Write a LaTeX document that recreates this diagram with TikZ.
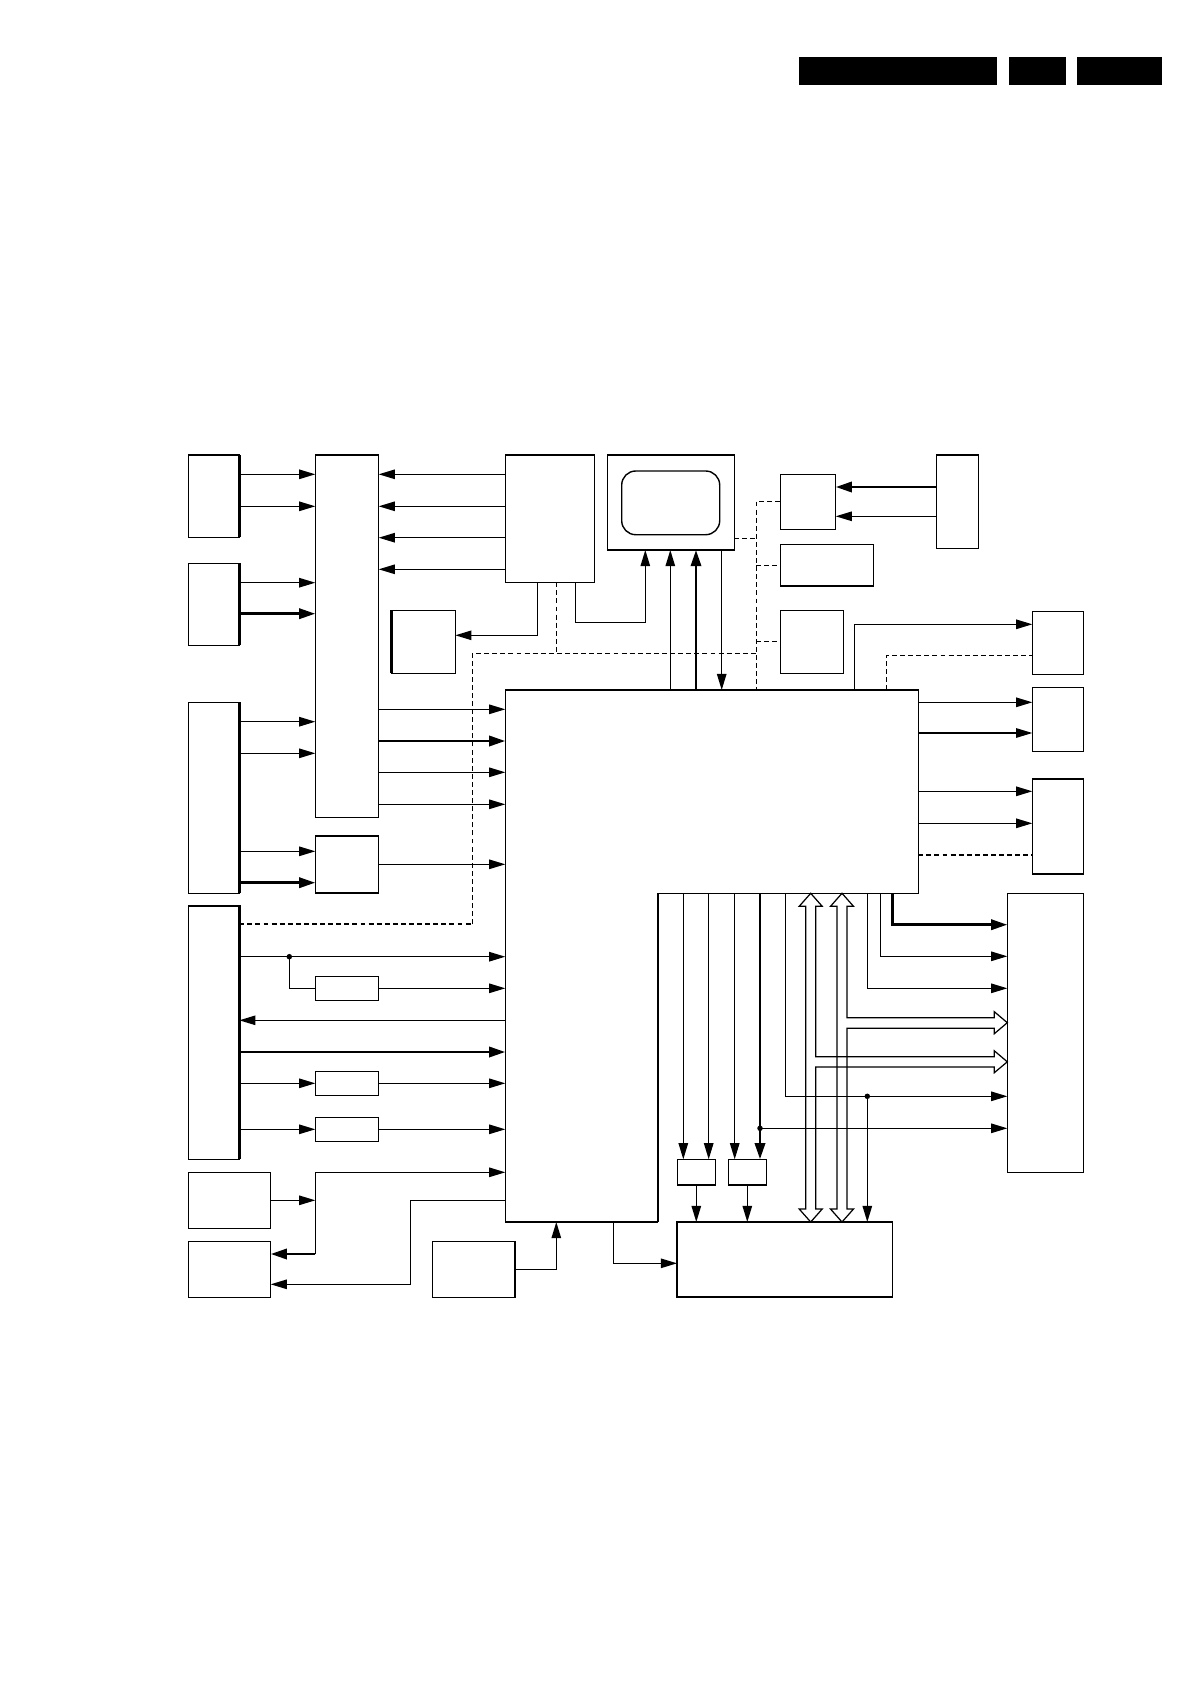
\documentclass[tikz,border=0pt]{standalone}
\usetikzlibrary{arrows.meta,fit}
\newcommand\bx[6][]{\path (#3,#4) coordinate (#2-a) (#5,#6) coordinate (#2-b); \node[box,#1,fit=(#2-a)(#2-b)] (#2) {};}
\begin{document}
\begin{tikzpicture}[x=0.1mm,y=-0.1mm,
  box/.style={draw,line width=0.4pt,inner sep=0pt,outer sep=0pt,rectangle},
  ln/.style={line width=0.35pt},
  thk/.style={line width=0.8pt},
  arr/.style={ln,-{Triangle[length=4.6pt,width=2.7pt]}},
  tarr/.style={thk,-{Triangle[length=4.6pt,width=2.9pt]}},
  dsh/.style={line width=0.4pt,dash pattern=on 1.4pt off 0.9pt},
  bus/.style={line width=0.35pt,line join=miter},
  dot/.style={circle,fill,inner sep=0pt,minimum size=0.55mm}]
\useasboundingbox (0,0) rectangle (1190,1684);
% header bars
\bx[fill=black,draw=none]{h1}{799}{56.7}{997}{84.7}
\bx[fill=black,draw=none]{h2}{1009}{56.7}{1066}{84.7}
\bx[fill=black,draw=none]{h3}{1077}{56.7}{1162}{84.7}
% boxes
\bx{A1}{188.3}{455}{239.3}{537.3}
\bx{A2}{188.3}{563.3}{239.3}{645.3}
\bx{A3}{188.3}{702.3}{239.3}{893.3}
\bx{A4}{188.3}{906}{239.3}{1159.3}
\bx{B}{315.3}{455}{378.7}{817.3}
\bx{J}{315.3}{836}{378.7}{893}
\bx{K1}{315.3}{976.3}{378.7}{1000.3}
\bx{K2}{315.3}{1071.3}{378.7}{1095.3}
\bx{K3}{315.3}{1117.3}{378.7}{1141.3}
\bx{C}{505.3}{455}{594.3}{582.3}
\bx{D}{391.7}{610.3}{455.3}{673.3}
\bx{T}{607.3}{455}{734.3}{550}
\bx[rounded corners=1.4mm]{Ti}{621.7}{471}{719.7}{534.7}
\bx{E}{780.3}{474.3}{835.7}{529.3}
\bx{F}{780.3}{544.3}{873.3}{586}
\bx{G}{780.3}{610.3}{843.3}{673.3}
\bx{H}{936.3}{455}{978.3}{548.3}
\bx{I}{1032.3}{611.3}{1083.3}{674.3}
\bx{S1}{1032.3}{687.3}{1083.3}{751.3}
\bx{S2}{1032.3}{779}{1083.3}{874}
\bx{R}{1007.3}{893.3}{1083.3}{1172.3}
\bx{L1}{188.3}{1172.3}{270.7}{1228.3}
\bx{L2}{188.3}{1241.3}{270.7}{1297.3}
\bx{N}{432.3}{1241.3}{515}{1297.3}
\bx{Q1}{677.3}{1159.3}{715.3}{1185}
\bx{Q2}{728.3}{1159.3}{766.3}{1185}
\bx{P}{677}{1222}{892.3}{1297}
% main L-shaped block
\coordinate (M1) at (505.3,690);
\coordinate (M2) at (918.3,690);
\coordinate (M3) at (918.3,893.3);
\coordinate (M4) at (657.7,893.3);
\coordinate (M5) at (657.7,1222);
\coordinate (M6) at (505.3,1222);
\draw[line width=0.4pt] (M1)--(M2)--(M3)--(M4)--(M5)--(M6)--cycle;
% heavier edges
\draw[thk] (A1.north east) -- (A1.south east);
\draw[thk] (A2.north east) -- (A2.south east);
\draw[thk] (A3.north east) -- (A3.south east);
\draw[thk] (A4.north west) -- (A4.north east) -- (A4.south east);
\draw[thk] (D.north west) -- (D.south west);
\draw[thk] (S2.north west) -- (S2.north east);
\draw[thk] (N.north east) -- (N.south east);
\draw[thk] (P.north west) -- (P.south west);
\draw[line width=0.55pt] (M4) -- (M5);
% left column
\draw[arr] (A1.east |- 0,474.3) -- (B.west |- 0,474.3);
\draw[arr] (A1.east |- 0,506.3) -- (B.west |- 0,506.3);
\draw[arr] (A2.east |- 0,582.7) -- (B.west |- 0,582.7);
\draw[tarr] (A2.east |- 0,613.7) -- (B.west |- 0,613.7);
\draw[arr] (A3.east |- 0,721.7) -- (B.west |- 0,721.7);
\draw[arr] (A3.east |- 0,753.3) -- (B.west |- 0,753.3);
\draw[arr] (A3.east |- 0,851.3) -- (J.west |- 0,851.3);
\draw[tarr] (A3.east |- 0,882.7) -- (J.west |- 0,882.7);
\foreach \yy in {474.3,506.3,537.7,569.3} \draw[arr] (C.west |- 0,\yy) -- (B.east |- 0,\yy);
\draw[arr] (B.east |- 0,709.3) -- (M1 |- 0,709.3);
\draw[tarr] (B.east |- 0,741) -- (M1 |- 0,741);
\draw[arr] (B.east |- 0,772.3) -- (M1 |- 0,772.3);
\draw[arr] (B.east |- 0,804.3) -- (M1 |- 0,804.3);
\draw[arr] (J.east |- 0,864.3) -- (M1 |- 0,864.3);
% C outputs
\draw[arr] (C.south -| 537.7,0) -- (537.7,635.3) -- (D.east |- 0,635.3);
\draw[arr] (C.south -| 575.7,0) -- (575.7,622.3) -- (645.3,622.3) -- (T.south -| 645.3,0);
% screen links
\draw[arr] (M1 -| 670.3,0) -- (T.south -| 670.3,0);
\draw[tarr] (M1 -| 696,0) -- (T.south -| 696,0);
\draw[arr] (T.south -| 721.7,0) -- (M1 -| 721.7,0);
% right top
\draw[tarr] (H.west |- 0,487) -- (E.east |- 0,487);
\draw[arr] (H.west |- 0,516.3) -- (E.east |- 0,516.3);
\draw[arr] (M1 -| 854.3,0) -- (854.3,624.3) -- (I.west |- 0,624.3);
\draw[dsh] (M1 -| 886.3,0) -- (886.3,655.3) -- (I.west |- 0,655.3);
\draw[arr] (M2 |- 0,702.3) -- (S1.west |- 0,702.3);
\draw[arr] (M2 |- 0,733) -- (S1.west |- 0,733);
\draw[arr] (M2 |- 0,791.3) -- (S2.west |- 0,791.3);
\draw[arr] (M2 |- 0,823.3) -- (S2.west |- 0,823.3);
\draw[dsh] (M2 |- 0,855) -- (S2.west |- 0,855);
% dashed network
\draw[dsh] (C.south -| 556.7,0) -- (556.7,653.3);
\draw[dsh] (472.3,924.3) -- (472.3,653.3) -- (756.3,653.3);
\draw[dsh,line width=0.65pt] (A4.east |- 0,924.3) -- (472.3,924.3);
\draw[dsh] (E.west |- 0,501.3) -- (756.3,501.3) -- (M1 -| 756.3,0);
\draw[dsh] (T.east |- 0,538.3) -- (756.3,538.3);
\draw[dsh] (756.3,565.3) -- (F.west |- 0,565.3);
\draw[dsh] (756.3,641.3) -- (G.west |- 0,641.3);
% A4 group
\node[dot] (d1) at (289.3,956.7) {};
\draw[arr] (A4.east |- 0,956.7) -- (M1 |- 0,956.7);
\draw[ln] (d1.center) -- (289.3,988.3) -- (K1.west);
\draw[arr] (K1.east) -- (M1 |- K1.east);
\draw[arr] (M1 |- 0,1020.3) -- (A4.east |- 0,1020.3);
\draw[tarr] (A4.east |- 0,1052) -- (M1 |- 0,1052);
\draw[arr] (A4.east |- K2.west) -- (K2.west);
\draw[arr] (K2.east) -- (M1 |- K2.east);
\draw[arr] (A4.east |- K3.west) -- (K3.west);
\draw[arr] (K3.east) -- (M1 |- K3.east);
% bottom left
\coordinate (jL) at (315.3,1200.3);
\draw[arr] (L1.east) -- (jL);
\draw[arr] (jL) -- (315.3,1172.3) -- (M1 |- 0,1172.3);
\draw[ln] (jL) -- (315.3,1254);
\draw[tarr] (315.3,1254) -- (L2.east |- 0,1254);
\draw[arr] (M1 |- 0,1200.3) -- (410.3,1200.3) -- (410.3,1284.3) -- (L2.east |- 0,1284.3);
\draw[arr] (N.east) -- (556.3,1269.3) -- (M6 -| 556.3,0);
\draw[arr] (M6 -| 613.7,0) -- (613.7,1263.3) -- (P.west |- 0,1263.3);
% downward lines
\draw[arr] (M4 -| 683.3,0) -- (Q1.north -| 683.3,0);
\draw[arr] (M4 -| 708.7,0) -- (Q1.north -| 708.7,0);
\draw[arr] (M4 -| 734.7,0) -- (Q2.north -| 734.7,0);
\draw[tarr] (M4 -| 760,0) -- (Q2.north -| 760,0);
\node[dot] (d2) at (760,1128.3) {};
\draw[arr] (d2.center) -- (R.west |- 0,1128.3);
\draw[arr] (M4 -| 785.3,0) -- (785.3,1096.3) -- (R.west |- 0,1096.3);
\node[dot] (d3) at (867.3,1096.3) {};
\draw[arr] (d3.center) -- (P.north -| 867.3,0);
\draw[tarr] (M4 -| 892.3,0) -- (892.3,924.7) -- (R.west |- 0,924.7);
\draw[arr] (M4 -| 880.3,0) -- (880.3,956.3) -- (R.west |- 0,956.3);
\draw[arr] (M4 -| 867.3,0) -- (867.3,988.3) -- (R.west |- 0,988.3);
\draw[arr] (Q1.south) -- (P.north -| Q1.south);
\draw[arr] (Q2.south) -- (P.north -| Q2.south);
% buses
\draw[bus] (810.7,893.3) -- (799.2,906.3) -- (805.7,906.3) -- (805.7,1209) -- (799.2,1209) -- (810.7,1222) -- (822.2,1209) -- (815.7,1209) -- (815.7,1067) -- (994.3,1067) -- (994.3,1072.7) -- (1007.3,1061.8) -- (994.3,1050.8) -- (994.3,1056.7) -- (815.7,1056.7) -- (815.7,906.3) -- (822.2,906.3) -- cycle;
\draw[bus] (842,893.3) -- (830.5,906.3) -- (837,906.3) -- (837,1209) -- (830.5,1209) -- (842,1222) -- (853.5,1209) -- (847,1209) -- (847,1028.3) -- (994.3,1028.3) -- (994.3,1033.7) -- (1007.3,1022.7) -- (994.3,1011.7) -- (994.3,1017.7) -- (847,1017.7) -- (847,906.3) -- (853.5,906.3) -- cycle;
\end{tikzpicture}
\end{document}
